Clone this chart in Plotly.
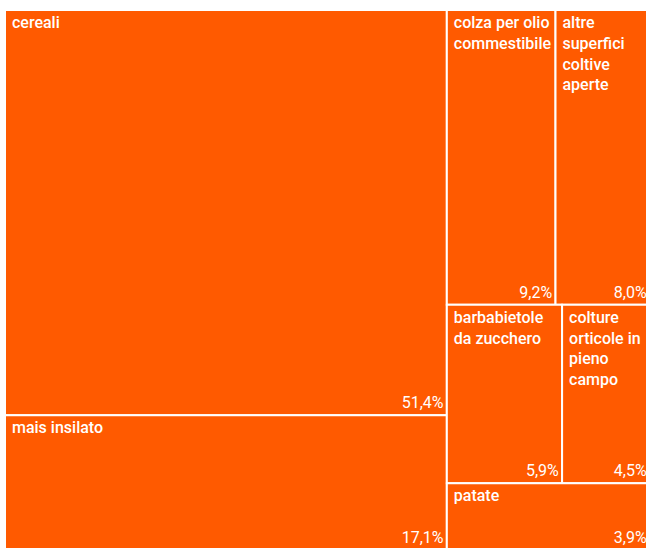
import plotly.graph_objects as go

categories = ["cereali", "mais insilato", "colza per olio commestibile",
              "altre superfici coltive aperte", "barbabietole da zucchero",
              "colture orticole in pieno campo", "patate"]
label_lines = [["cereali"], ["mais insilato"], ["colza per olio", "commestibile"],
               ["altre", "superfici", "coltive", "aperte"], ["barbabietole", "da zucchero"],
               ["colture", "orticole in", "pieno", "campo"], ["patate"]]
shares = [51.4, 17.1, 9.2, 8.0, 5.9, 4.5, 3.9]

display_labels = ["<br>".join("\u00a0" + ln for ln in lines) for lines in label_lines]
pct_text = [f"{v:.1f}%".replace(".", ",") for v in shares]
parents = [""] * len(categories)
orange = "#FF5A00"
tiling = dict(packing="squarify", squarifyratio=1.618, pad=0)
nopad = dict(t=0, l=0, r=0, b=0)

fig = go.Figure()
fig.add_trace(go.Treemap(
    ids=categories, labels=categories, parents=parents, values=shares,
    text=display_labels, texttemplate="%{text}", textposition="top left",
    marker=dict(colors=[orange] * len(categories), line=dict(color="white", width=2), pad=nopad),
    textfont=dict(family="Roboto", size=16, color="white", weight=500),
    sort=True, tiling=tiling, pathbar=dict(visible=False),
    hoverinfo="skip",
))
fig.add_trace(go.Treemap(
    ids=categories, labels=categories, parents=parents, values=shares,
    text=pct_text, texttemplate="%{text}", textposition="bottom right",
    marker=dict(colors=["rgba(0,0,0,0)"] * len(categories), line=dict(color="rgba(0,0,0,0)", width=0), pad=nopad),
    textfont=dict(family="Roboto", size=16, color="white"),
    sort=True, tiling=tiling, pathbar=dict(visible=False),
    hoverinfo="skip",
))
fig.update_layout(
    width=650, height=550,
    margin=dict(l=5, r=0, t=10, b=0),
    paper_bgcolor="white",
    uniformtext=dict(minsize=16, mode="show"),
    showlegend=False,
)
fig.write_html("out.html",
               config={"displayModeBar": False},
               post_script="document.body.style.margin='0';document.body.style.overflow='hidden';")
